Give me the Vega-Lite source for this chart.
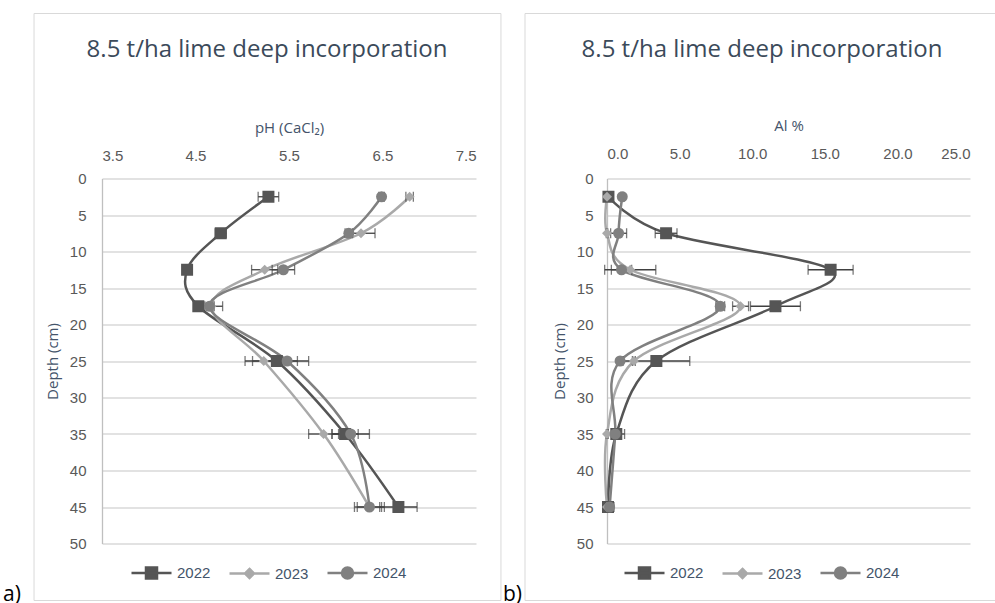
{
  "$schema": "https://vega.github.io/schema/vega-lite/v6.json",
  "padding": {"left": 2, "top": 12.5, "right": 0, "bottom": 0},
  "background": "white",
  "config": {
    "view": {"stroke": null},
    "font": "Open Sans",
    "axis": {
      "labelFont": "Liberation Sans", "labelFontSize": 15, "labelColor": "#595959",
      "titleFont": "Open Sans", "titleFontSize": 15, "titleFontWeight": "normal", "titleColor": "#44546a",
      "ticks": false, "gridColor": "#d9d9d9", "gridWidth": 1.3, "domainColor": "#bfbfbf", "domainWidth": 1.3
    },
    "legend": {
      "orient": "none", "direction": "horizontal", "title": null, "padding": 0,
      "labelFont": "Liberation Sans", "labelFontSize": 15, "labelColor": "#44546a",
      "symbolSize": 400, "symbolStrokeWidth": 2.5, "labelOffset": 14, "columnPadding": 13
    },
    "title": {"font": "Open Sans", "fontSize": 24, "fontWeight": "normal", "color": "#3b4a5a"}
  },
  "datasets": {
    "ph": [
      {"year": "2022", "depth": 2.5, "v": 5.28, "err": 0.11},
      {"year": "2022", "depth": 7.5, "v": 4.77, "err": 0.06},
      {"year": "2022", "depth": 12.5, "v": 4.41, "err": 0.03},
      {"year": "2022", "depth": 17.5, "v": 4.53, "err": 0.05},
      {"year": "2022", "depth": 25, "v": 5.37, "err": 0.34},
      {"year": "2022", "depth": 35, "v": 6.1, "err": 0.14},
      {"year": "2022", "depth": 45, "v": 6.67, "err": 0.2},
      {"year": "2023", "depth": 2.5, "v": 6.79, "err": 0.04},
      {"year": "2023", "depth": 7.5, "v": 6.27, "err": 0.15},
      {"year": "2023", "depth": 12.5, "v": 5.24, "err": 0.14},
      {"year": "2023", "depth": 17.5, "v": 4.67, "err": 0.12},
      {"year": "2023", "depth": 25, "v": 5.23, "err": 0.12},
      {"year": "2023", "depth": 35, "v": 5.87, "err": 0.16},
      {"year": "2023", "depth": 45, "v": 6.36, "err": 0.13},
      {"year": "2024", "depth": 2.5, "v": 6.49, "err": 0.03},
      {"year": "2024", "depth": 7.5, "v": 6.14, "err": 0.04},
      {"year": "2024", "depth": 12.5, "v": 5.44, "err": 0.12},
      {"year": "2024", "depth": 17.5, "v": 4.65, "err": 0.05},
      {"year": "2024", "depth": 25, "v": 5.48, "err": 0.11},
      {"year": "2024", "depth": 35, "v": 6.16, "err": 0.2},
      {"year": "2024", "depth": 45, "v": 6.36, "err": 0.16}
    ],
    "al": [
      {"year": "2022", "depth": 2.5, "v": 0.1, "err": 0.1},
      {"year": "2022", "depth": 7.5, "v": 4.07, "err": 0.75},
      {"year": "2022", "depth": 12.5, "v": 15.4, "err": 1.55},
      {"year": "2022", "depth": 17.5, "v": 11.6, "err": 1.72},
      {"year": "2022", "depth": 25, "v": 3.4, "err": 2.3},
      {"year": "2022", "depth": 35, "v": 0.64, "err": 0.57},
      {"year": "2022", "depth": 45, "v": 0.07, "err": 0.3},
      {"year": "2023", "depth": 2.5, "v": 0.0, "err": 0.05},
      {"year": "2023", "depth": 7.5, "v": 0.0, "err": 0.05},
      {"year": "2023", "depth": 12.5, "v": 1.6, "err": 1.76},
      {"year": "2023", "depth": 17.5, "v": 9.2, "err": 0.55},
      {"year": "2023", "depth": 25, "v": 1.85, "err": 0.1},
      {"year": "2023", "depth": 35, "v": 0.0, "err": 0.05},
      {"year": "2023", "depth": 45, "v": 0.0, "err": 0.05},
      {"year": "2024", "depth": 2.5, "v": 1.05, "err": 0.1},
      {"year": "2024", "depth": 7.5, "v": 0.8, "err": 0.55},
      {"year": "2024", "depth": 12.5, "v": 1.0, "err": 0.7},
      {"year": "2024", "depth": 17.5, "v": 7.8, "err": 0.3},
      {"year": "2024", "depth": 25, "v": 0.9, "err": 0.1},
      {"year": "2024", "depth": 35, "v": 0.57, "err": 0.2},
      {"year": "2024", "depth": 45, "v": 0.18, "err": 0.3}
    ]
  },
  "hconcat": [
    {
      "width": 374, "height": 365,
      "title": {"text": "8.5 t/ha lime deep incorporation", "dx": -22, "offset": -49},
      "resolve": {"axis": {"x": "independent", "y": "independent"}},
      "layer": [
        {
          "data": {"values": [{"label": "a)"}]},
          "mark": {"type": "rect", "fill": "transparent", "stroke": "#d9d9d9", "strokeWidth": 1},
          "encoding": {
            "x": {"datum": 2.773, "type": "quantitative", "axis": null}, "x2": {"datum": 7.767},
            "y": {"datum": -22.6, "type": "quantitative", "axis": null}, "y2": {"datum": 57.81}
          }
        },
        {
          "data": {"values": [{"label": "a)"}]},
          "mark": {"type": "text", "align": "left", "baseline": "alphabetic", "fontSize": 21, "font": "Open Sans", "color": "#000000"},
          "encoding": {
            "x": {"datum": 2.441, "type": "quantitative", "axis": null},
            "y": {"datum": 57.9, "type": "quantitative", "axis": null},
            "text": {"field": "label"}
          }
        },
        {
          "data": {"name": "ph"},
          "encoding": {
            "x": {"field": "v", "type": "quantitative", "title": "pH (CaCl₂)",
              "scale": {"domain": [3.5, 7.5], "nice": false, "zero": false},
              "axis": {"orient": "top", "values": [3.5, 4.5, 5.5, 6.5, 7.5], "format": ".1f", "grid": false, "domain": false, "labelPadding": 15, "titlePadding": 13}},
            "y": {"field": "depth", "type": "quantitative", "title": "Depth (cm)",
              "scale": {"domain": [0, 50], "reverse": true, "nice": false},
              "axis": {"values": [0, 5, 10, 15, 20, 25, 30, 35, 40, 45, 50], "grid": true, "labelPadding": 16, "titlePadding": 9}},
            "color": {"field": "year", "type": "nominal",
              "scale": {"domain": ["2022", "2023", "2024"], "range": ["#555555", "#a9a9a9", "#808080"]},
              "legend": {"legendX": 38, "legendY": 383,
                "encode": {"symbols": {"update": {
                  "shape": {"signal": "datum.value == '2022' ? 'M-2,0H2M-0.55,-0.55H0.55V0.55H-0.55Z' : datum.value == '2023' ? 'M-2,0H2M0,-0.45L0.45,0L0,0.45L-0.45,0Z' : 'M-2,0H2M0.55,0A0.55,0.55,0,1,1,-0.55,0A0.55,0.55,0,1,1,0.55,0Z'"},
                  "stroke": {"signal": "datum.value == '2022' ? '#555555' : datum.value == '2023' ? '#a9a9a9' : '#808080'"},
                  "fill": {"signal": "datum.value == '2022' ? '#555555' : datum.value == '2023' ? '#a9a9a9' : '#808080'"},
                  "strokeWidth": {"value": 2.5}, "size": {"value": 400},
                  "opacity": {"value": 1}, "fillOpacity": {"value": 1}, "strokeOpacity": {"value": 1}
                }}}}}
          },
          "layer": [
            {"mark": {"type": "line", "interpolate": "cardinal", "strokeWidth": 2.5}, "encoding": {"order": {"field": "depth", "type": "quantitative"}}},
            {"mark": {"type": "errorbar", "ticks": {"size": 10, "color": "#404040"}, "rule": {"color": "#404040"}, "thickness": 1.3}, "encoding": {"xError": {"field": "err"}, "color": {"value": "#404040"}}},
            {"transform": [{"filter": "datum.year == '2022'"}], "mark": {"type": "point", "filled": true, "opacity": 1, "shape": "square", "size": 144}},
            {"transform": [{"filter": "datum.year == '2023'"}], "mark": {"type": "point", "filled": true, "opacity": 1, "shape": "diamond", "size": 100}},
            {"transform": [{"filter": "datum.year == '2024'"}], "mark": {"type": "point", "filled": true, "opacity": 1, "shape": "circle", "size": 121}}
          ]
        }
      ]
    },
    {
      "width": 363, "height": 365,
      "title": {"text": "8.5 t/ha lime deep incorporation", "dx": -26.5, "offset": -49},
      "resolve": {"axis": {"x": "independent", "y": "independent"}},
      "layer": [
        {
          "data": {"values": [{"label": "b)"}]},
          "mark": {"type": "rect", "fill": "transparent", "stroke": "#d9d9d9", "strokeWidth": 1},
          "encoding": {
            "x": {"datum": -5.647, "type": "quantitative", "axis": null}, "x2": {"datum": 26.76},
            "y": {"datum": -22.6, "type": "quantitative", "axis": null}, "y2": {"datum": 57.81}
          }
        },
        {
          "data": {"values": [{"label": "b)"}]},
          "mark": {"type": "text", "align": "left", "baseline": "alphabetic", "fontSize": 21, "font": "Open Sans", "color": "#000000"},
          "encoding": {
            "x": {"datum": -7.163, "type": "quantitative", "axis": null},
            "y": {"datum": 57.9, "type": "quantitative", "axis": null},
            "text": {"field": "label"}
          }
        },
        {
          "data": {"name": "al"},
          "encoding": {
            "x": {"field": "v", "type": "quantitative", "title": "Al %",
              "scale": {"domain": [0, 25], "nice": false, "zero": false},
              "axis": {"orient": "top", "values": [0, 5, 10, 15, 20, 25], "format": ".1f", "grid": false, "domain": false, "labelPadding": 17, "titlePadding": 13}},
            "y": {"field": "depth", "type": "quantitative", "title": "Depth (cm)",
              "scale": {"domain": [0, 50], "reverse": true, "nice": false},
              "axis": {"values": [0, 5, 10, 15, 20, 25, 30, 35, 40, 45, 50], "grid": true, "labelPadding": 14, "titlePadding": 9}},
            "color": {"field": "year", "type": "nominal",
              "scale": {"domain": ["2022", "2023", "2024"], "range": ["#555555", "#a9a9a9", "#808080"]},
              "legend": {"legendX": 26, "legendY": 383,
                "encode": {"symbols": {"update": {
                  "shape": {"signal": "datum.value == '2022' ? 'M-2,0H2M-0.55,-0.55H0.55V0.55H-0.55Z' : datum.value == '2023' ? 'M-2,0H2M0,-0.45L0.45,0L0,0.45L-0.45,0Z' : 'M-2,0H2M0.55,0A0.55,0.55,0,1,1,-0.55,0A0.55,0.55,0,1,1,0.55,0Z'"},
                  "stroke": {"signal": "datum.value == '2022' ? '#555555' : datum.value == '2023' ? '#a9a9a9' : '#808080'"},
                  "fill": {"signal": "datum.value == '2022' ? '#555555' : datum.value == '2023' ? '#a9a9a9' : '#808080'"},
                  "strokeWidth": {"value": 2.5}, "size": {"value": 400},
                  "opacity": {"value": 1}, "fillOpacity": {"value": 1}, "strokeOpacity": {"value": 1}
                }}}}}
          },
          "layer": [
            {"mark": {"type": "line", "interpolate": "cardinal", "strokeWidth": 2.5}, "encoding": {"order": {"field": "depth", "type": "quantitative"}}},
            {"mark": {"type": "errorbar", "ticks": {"size": 10, "color": "#404040"}, "rule": {"color": "#404040"}, "thickness": 1.3}, "encoding": {"xError": {"field": "err"}, "color": {"value": "#404040"}}},
            {"transform": [{"filter": "datum.year == '2022'"}], "mark": {"type": "point", "filled": true, "opacity": 1, "shape": "square", "size": 144}},
            {"transform": [{"filter": "datum.year == '2023'"}], "mark": {"type": "point", "filled": true, "opacity": 1, "shape": "diamond", "size": 100}},
            {"transform": [{"filter": "datum.year == '2024'"}], "mark": {"type": "point", "filled": true, "opacity": 1, "shape": "circle", "size": 121}}
          ]
        }
      ]
    }
  ],
  "spacing": 131,
  "bounds": "flush",
  "resolve": {"legend": {"color": "independent"}, "scale": {"color": "independent"}}
}
